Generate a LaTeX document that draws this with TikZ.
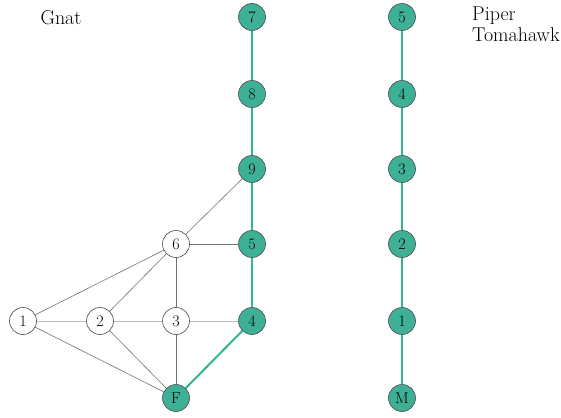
\documentclass[tikz,border=0pt]{standalone}
\usepackage{tikz}
\definecolor{tealfill}{RGB}{62,176,150}
\definecolor{tealline}{RGB}{52,180,145}
\begin{document}
\begin{tikzpicture}[x=1pt,y=-1pt,
  vtx/.style={circle,draw=black!70,line width=0.6pt,minimum size=27pt,inner sep=0pt,font=\fontsize{16}{18}\selectfont,fill=white},
  tvtx/.style={vtx,fill=tealfill},
  edge/.style={draw=black!55,line width=0.6pt},
  ledge/.style={draw=black!25,line width=0.9pt},
  tedge/.style={draw=tealline,line width=2pt},
  lbl/.style={font=\fontsize{20}{21}\selectfont,inner sep=0pt}]
\useasboundingbox (0,0) rectangle (561,417);
% Gnat nodes
\node[vtx] (n1) at (23,321) {1};
\node[vtx] (n2) at (100,321) {2};
\node[vtx] (n3) at (176,321) {3};
\node[vtx] (n6) at (176,244) {6};
\node[tvtx] (nF) at (176,398) {F};
\node[tvtx] (n4) at (252,321) {4};
\node[tvtx] (n5) at (252,244) {5};
\node[tvtx] (n9) at (252,169) {9};
\node[tvtx] (n8) at (252,94) {8};
\node[tvtx] (n7) at (252,17) {7};
% Piper nodes
\node[tvtx] (pM) at (402,398) {M};
\node[tvtx] (p1) at (402,321) {1};
\node[tvtx] (p2) at (402,244) {2};
\node[tvtx] (p3) at (402,169) {3};
\node[tvtx] (p4) at (402,94) {4};
\node[tvtx] (p5) at (402,17) {5};
% labels
\node[lbl] (gnat) at (61,18) {Gnat};
\node[lbl,anchor=north west,align=left] (piper) at (472,7) {Piper\\Tomahawk};
% edges
\draw[edge] (n1) -- (n6);
\draw[ledge] (n1) -- (n2);
\draw[edge] (n1) -- (nF);
\draw[edge] (n2) -- (n6);
\draw[ledge] (n2) -- (n3);
\draw[edge] (n2) -- (nF);
\draw[edge] (n3) -- (n6);
\draw[edge] (n3) -- (nF);
\draw[ledge] (n3) -- (n4);
\draw[edge] (n6) -- (n5);
\draw[edge] (n6) -- (n9);
\draw[tedge] (nF) -- (n4);
\draw[tedge] (n4) -- (n5);
\draw[tedge] (n5) -- (n9);
\draw[tedge] (n9) -- (n8);
\draw[tedge] (n8) -- (n7);
\draw[tedge] (pM) -- (p1);
\draw[tedge] (p1) -- (p2);
\draw[tedge] (p2) -- (p3);
\draw[tedge] (p3) -- (p4);
\draw[tedge] (p4) -- (p5);
\end{tikzpicture}
\end{document}
